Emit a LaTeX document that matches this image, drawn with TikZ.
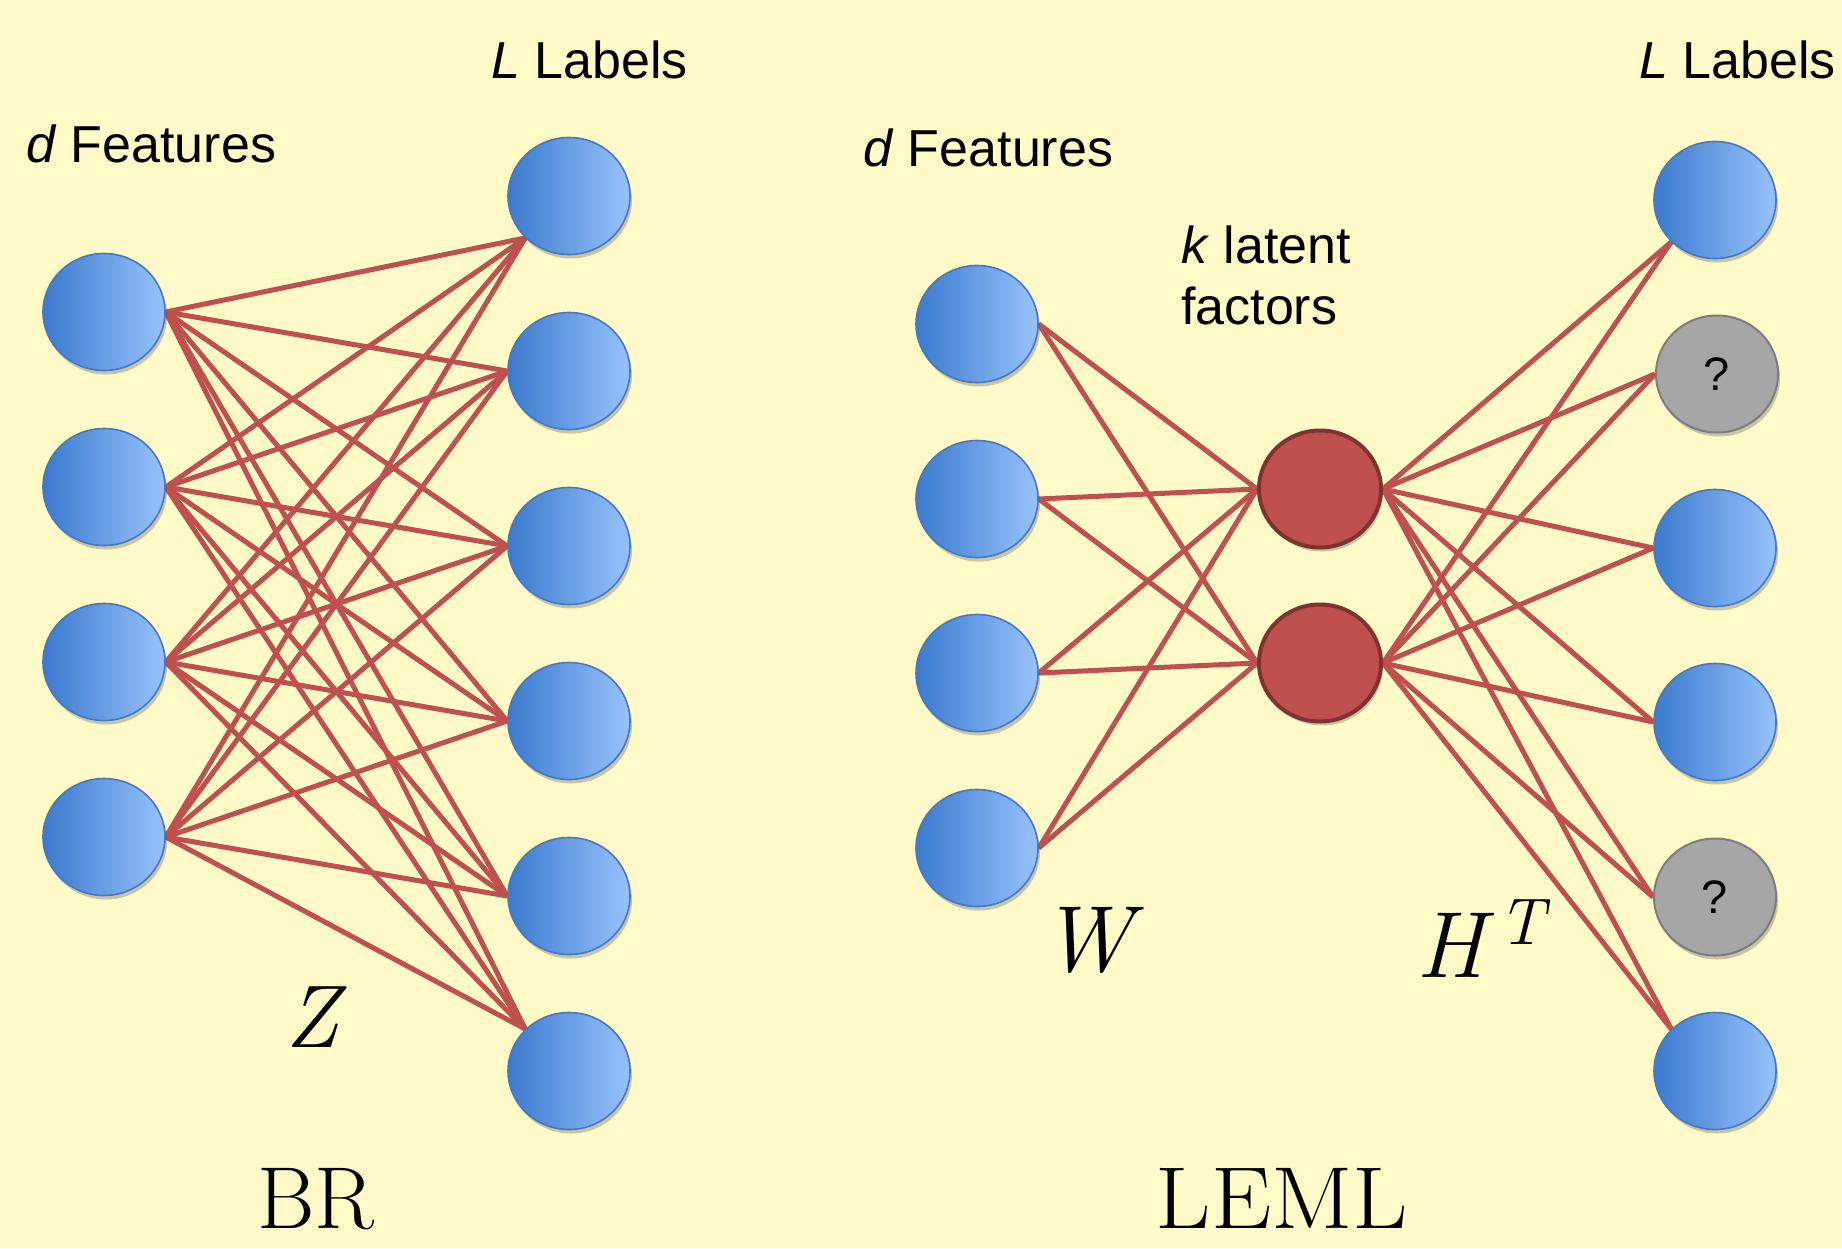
\documentclass[tikz,border=0pt]{standalone}
\usepackage{fontspec}
\newfontfamily\helv{Liberation Sans}
\usetikzlibrary{shapes.geometric,shadows}
\definecolor{paper}{RGB}{255,250,200}
\definecolor{blueL}{RGB}{58,122,206}
\definecolor{blueR}{RGB}{152,194,252}
\definecolor{blueB}{RGB}{70,120,190}
\definecolor{wire}{RGB}{192,80,77}
\definecolor{latB}{RGB}{128,50,48}
\definecolor{greyF}{RGB}{166,166,166}
\definecolor{greyB}{RGB}{125,125,125}
\pgfdeclarelayer{paperlayer}
\pgfdeclarelayer{wirelayer}
\pgfsetlayers{paperlayer,wirelayer,main}
\tikzset{
  blob/.style={ellipse, minimum width=122, minimum height=117, inner sep=0pt,
    drop shadow={shadow xshift=2pt, shadow yshift=-4pt, opacity=0.3, fill=black!70}},
  unit/.style={blob, draw=blueB, line width=1.6pt, left color=blueL, right color=blueR},
  latent/.style={blob, draw=latB, line width=4pt, fill=wire},
  unknown/.style={blob, draw=greyB, line width=2pt, fill=greyF,
    font=\helv\fontsize{47}{54}\selectfont},
  wireline/.style={draw=wire, line width=5pt},
  sanslbl/.style={inner sep=0pt, anchor=base west, font=\helv\fontsize{52}{60}\selectfont},
  mathlbl/.style={inner sep=0pt, font=\rmfamily\itshape\fontsize{94}{100}\selectfont},
  titlelbl/.style={inner sep=0pt, anchor=base, font=\rmfamily\fontsize{88}{100}\selectfont}
}
\begin{document}
\begin{tikzpicture}[x=1pt,y=-1pt]
\begin{pgfonlayer}{paperlayer}
\fill[paper] (0,0) rectangle (1842,1248);
\end{pgfonlayer}
\useasboundingbox (0,0) rectangle (1842,1248);

% BR
\node[unit] (f1) at (104,312) {};
\node[unit] (f2) at (104,487) {};
\node[unit] (f3) at (104,662) {};
\node[unit] (f4) at (104,837) {};
\node[unit] (l1) at (569,196) {};
\node[unit] (l2) at (569,371) {};
\node[unit] (l3) at (569,546) {};
\node[unit] (l4) at (569,721) {};
\node[unit] (l5) at (569,896) {};
\node[unit] (l6) at (569,1071) {};

% LEML
\node[unit] (g1) at (977,324) {};
\node[unit] (g2) at (977,499) {};
\node[unit] (g3) at (977,673) {};
\node[unit] (g4) at (977,848) {};
\node[latent] (h1) at (1320,489) {};
\node[latent] (h2) at (1320,663) {};
\node[unit] (m1) at (1715,200) {};
\node[unknown] (m2) at (1717,374) {?};
\node[unit] (m3) at (1715,548) {};
\node[unit] (m4) at (1715,722) {};
\node[unknown] (m5) at (1715,897) {?};
\node[unit] (m6) at (1715,1071) {};

\begin{pgfonlayer}{wirelayer}
\foreach \f in {f1,f2,f3,f4}{
  \draw[wireline] (\f.east) -- (l1.south west);
  \foreach \l in {l2,l3,l4,l5}{ \draw[wireline] (\f.east) -- (\l.west); }
  \draw[wireline] (\f.east) -- (l6.north west);
}
\foreach \g in {g1,g2,g3,g4}{
  \foreach \h in {h1,h2}{ \draw[wireline] (\g.east) -- (\h.west); }
}
\foreach \h in {h1,h2}{
  \draw[wireline] (\h.east) -- (m1.south west);
  \foreach \m in {m2,m3,m4,m5}{ \draw[wireline] (\h.east) -- (\m.west); }
  \draw[wireline] (\h.east) -- (m6.north west);
}
\end{pgfonlayer}

% labels
\node[sanslbl] (tdf1) at (26,162) {\textit{d} Features};
\node[sanslbl] (tll1) at (491,78) {\textit{L} Labels};
\node[sanslbl] (tdf2) at (863,166) {\textit{d} Features};
\node[sanslbl] (tll2) at (1639,78) {\textit{L} Labels};
\node[sanslbl] (tk1) at (1181,263) {\textit{k} latent};
\node[sanslbl] (tk2) at (1181,324) {factors};

\node[mathlbl, font=\rmfamily\itshape\fontsize{89}{100}\selectfont] (tz) at (312,1017) {Z};
\node[mathlbl] (tw) at (1086,940) {W};
\node[mathlbl, anchor=base west] (th) at (1416,977) {H\kern14pt\raisebox{33pt}{\fontsize{66}{70}\selectfont T}};

\node[titlelbl] (tbr) at (316,1228) {BR};
\node[titlelbl] (tleml) at (1282,1228) {\scalebox{1.09}[1]{LEML}};
\end{tikzpicture}
\end{document}
